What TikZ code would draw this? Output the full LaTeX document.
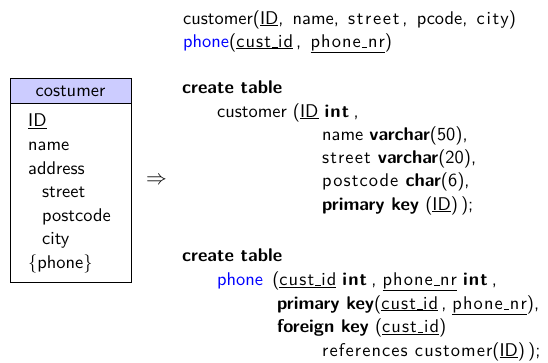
\documentclass[tikz,border=0pt]{standalone}
\usepackage{fontspec}
\setsansfont{lmsans10-regular.otf}[BoldFont=lmsans10-bold.otf]
\newcommand\ls[1]{{\addfontfeature{LetterSpace=6}#1}}
\newcommand\lsw[1]{{\addfontfeature{LetterSpace=9}#1}}
\newcommand\ul[1]{\underline{#1}}
\newcommand\us{\leavevmode\kern.06em\vbox{\hrule width.3em}\kern.03em}
\definecolor{hdr}{RGB}{204,204,255}
\definecolor{tblue}{RGB}{0,0,255}
\begin{document}
\begin{tikzpicture}[x=1pt,y=-1pt,
  txt/.style={anchor=base west,inner sep=0pt,font=\sffamily\fontsize{18.4}{22}\selectfont},
  wide/.style={txt,execute at begin node={\spaceskip=0.5em\relax}},
  box/.style={draw=black,line width=0.6pt}]
\useasboundingbox (0,0) rectangle (548,362);
% entity box
\draw[box,fill=hdr] (10,78) rectangle (131,103);
\draw[box] (10,103) rectangle (131,282);
\node[txt,anchor=base] (ttl) at (70.5,96.7) {costumer};
\node[txt] (a1) at (28,126.7) {\ul{ID}};
\node[txt] (a2) at (28,150.5) {name};
\node[txt] (a3) at (28,174) {address};
\node[txt] (a4) at (42,197.5) {street};
\node[txt] (a5) at (42,221) {postcode};
\node[txt] (a6) at (42,244.5) {city};
\node[txt] (a7) at (28,268) {\{phone\}};
% arrow
\node[inner sep=0pt,anchor=center,font=\fontsize{20}{20}\selectfont] (arr) at (156.5,180.5) {$\Rightarrow$};
% relational schema
\node[wide] (r1) at (183,24) {customer(\ul{ID}, name, \lsw{street}\,, pcode, \lsw{city})};
\node[wide] (r2) at (183,47) {\textcolor{tblue}{phone}(\ul{\ls{cust\us id}}\,, \ul{\ls{phone\us nr}})};
% create table customer
\node[txt] (c1) at (182,93) {\textbf{create table}};
\node[txt] (c2) at (217,117) {customer (\ul{ID} \textbf{\ls{int}}\,,};
\node[txt] (c3) at (322,140) {name \textbf{varchar}(50),};
\node[txt] (c4) at (322,163) {\ls{street} \textbf{varchar}(20),};
\node[txt] (c5) at (322,186) {\ls{postcode} \textbf{char}(6),};
\node[txt] (c6) at (322,210) {\textbf{primary key} (\ul{ID})\,);};
% create table phone
\node[txt] (p1) at (182,261.5) {\textbf{create table}};
\node[txt] (p2) at (217,285.5) {\textcolor{tblue}{phone} \,(\ul{\ls{cust\us id}} \textbf{\ls{int}}\,, \ul{\ls{phone\us nr}} \textbf{\ls{int}}\,,};
\node[txt] (p3) at (277,309) {\textbf{primary key}(\ul{\ls{cust\us id}}\,, \ul{\ls{phone\us nr}}),};
\node[txt] (p4) at (277,332.5) {\textbf{foreign key} (\ul{\ls{cust\us id}})};
\node[txt] (p5) at (322,356) {\ls{references customer}(\ul{ID})\,);};
\end{tikzpicture}
\end{document}
